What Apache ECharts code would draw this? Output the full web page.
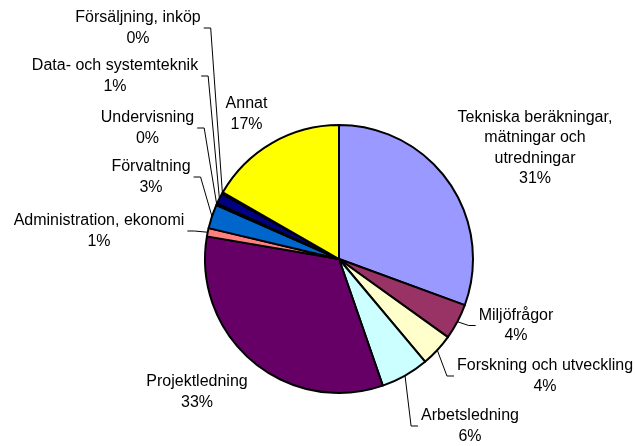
<!DOCTYPE html>
<html>
<head>
<meta charset="utf-8">
<script src="https://cdn.jsdelivr.net/npm/echarts@6/dist/echarts.min.js"></script>
<style>
html,body{margin:0;padding:0;background:#fff;}
#chart{width:635px;height:446px;}
</style>
</head>
<body>
<div id="chart"></div>
<script>
// ---- data ----
const categories = [
  'Tekniska beräkningar,\nmätningar och\nutredningar',
  'Miljöfrågor',
  'Forskning och utveckling',
  'Arbetsledning',
  'Projektledning',
  'Administration, ekonomi',
  'Förvaltning',
  'Undervisning',
  'Data- och systemteknik',
  'Försäljning, inköp',
  'Annat'
];
const values = [30.6, 4.3, 4.0, 5.8, 33.0, 1.0, 2.9, 0.2, 1.3, 0.2, 16.7];
const colors = ['#9999FF', '#993366', '#FFFFCC', '#CCFFFF', '#660066', '#FF8080',
                '#0066CC', '#CCCCFF', '#000080', '#FF00FF', '#FFFF00'];

// ---- label placement (centre of label block, leader side) ----
const labelPlacement = [
  [535, 148, null],
  [516, 325.5, 'right'],
  [545, 376, 'right'],
  [470, 426, 'right'],
  [197, 392, null],
  [99, 231, 'left'],
  [151, 177, 'left'],
  [147.5, 128, 'left'],
  [115, 76, 'left'],
  [138, 28, 'left'],
  [246.5, 114, null]
];

const chart = echarts.init(document.getElementById('chart'), null, {renderer: 'canvas'});

const data = categories.map((name, i) => ({
  name: name,
  value: values[i],
  itemStyle: {color: colors[i]},
  labelLine: {show: !!labelPlacement[i][2]}
}));

chart.setOption({
  animation: false,
  backgroundColor: '#ffffff',
  series: [{
    type: 'pie',
    center: [339, 259],
    radius: 134,
    startAngle: 90,
    clockwise: true,
    avoidLabelOverlap: false,
    minShowLabelAngle: 0,
    data: data,
    itemStyle: {borderColor: '#000', borderWidth: 2},
    label: {
      show: true,
      position: 'outside',
      formatter: p => p.name + '\n' + Math.round(p.value) + '%',
      fontFamily: 'Liberation Sans, Arial, sans-serif',
      fontSize: 16,
      lineHeight: 20.5,
      color: '#000',
      align: 'center'
    },
    labelLine: {
      show: true,
      length: 10,
      length2: 10,
      lineStyle: {color: '#000', width: 1}
    },
    emphasis: {disabled: true},
    labelLayout: function (params) {
      const i = params.dataIndex;
      const pl = labelPlacement[i];
      const w = params.labelRect.width;
      const res = {x: pl[0], y: pl[1], align: 'center', verticalAlign: 'middle'};
      if (pl[2] && params.labelLinePoints) {
        const start = params.labelLinePoints[0];
        let endX, elbowX;
        if (pl[2] === 'left') {
          endX = pl[0] + w / 2 + 3;
          elbowX = endX + 7;
        } else {
          endX = pl[0] - w / 2 - 3;
          elbowX = endX - 7;
        }
        res.labelLinePoints = [start, [elbowX, pl[1]], [endX, pl[1]]];
      }
      return res;
    }
  }]
});
</script>
</body>
</html>
